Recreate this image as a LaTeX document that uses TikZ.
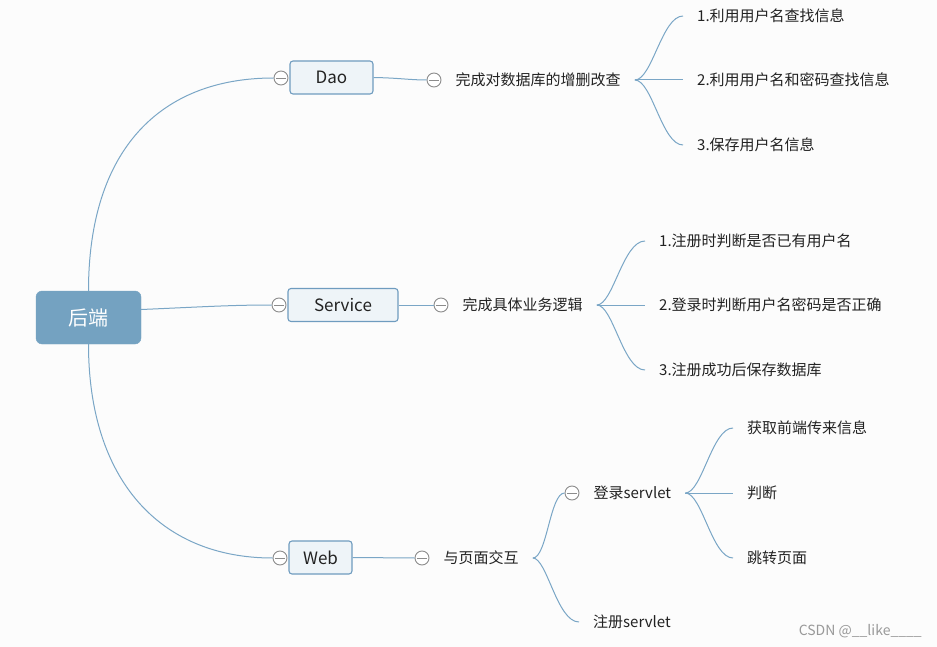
\documentclass[tikz,border=0pt]{standalone}
\usepackage{fontspec}
\setmainfont{Noto Sans CJK SC}
\usepackage{xcolor}
\usetikzlibrary{positioning}

\definecolor{bgcol}{HTML}{FCFCFC}
\definecolor{linkcol}{HTML}{7AA6C6}
\definecolor{rootcol}{HTML}{74A2C1}
\definecolor{topiccol}{HTML}{EEF4F8}
\definecolor{topicline}{HTML}{6F9CBF}
\definecolor{foldcol}{HTML}{8C8C8C}
\definecolor{textcol}{HTML}{222222}

\tikzset{
	rootbox/.style={fill=rootcol, draw=rootcol, rounded corners=6pt, text=white,
		minimum width=105pt, minimum height=53pt, font=\fontsize{20}{24}\selectfont},
	topicbox/.style={fill=topiccol, draw=topicline, line width=1.1pt, rounded corners=3pt, text=textcol,
		minimum height=33pt, inner sep=0pt, font=\fontsize{17}{20}\selectfont},
	fold/.style={circle, draw=foldcol, fill=white, minimum size=14pt, inner sep=0pt, line width=0.9pt,
		path picture={\draw[foldcol, line width=0.9pt] ([xshift=-5pt]path picture bounding box.center) -- ([xshift=5pt]path picture bounding box.center);}},
	leaf/.style={anchor=west, inner xsep=14pt, inner ysep=2pt, text=textcol, font=\fontsize{15}{18}\selectfont},
	link/.style={draw=linkcol, line width=1pt}
}

\begin{document}
\begin{tikzpicture}[x=1pt,y=-1pt]

	\fill[bgcol] (0,0) rectangle (937,647);
	\useasboundingbox (0,0) rectangle (937,647);

	% root and the three topics
	\node[rootbox] (root) at (88.5,317.5) {后端};
	\node[topicbox, minimum width=83pt] (dao) at (331.5,77.5) {Dao};
	\node[topicbox, minimum width=110pt] (service) at (343,305) {Service};
	\node[topicbox, minimum width=63pt] (web) at (320.5,557.5) {Web};

	\node[fold] (daofold) at (281,78) {};
	\node[fold] (servicefold) at (279,305) {};
	\node[fold] (webfold) at (280,558) {};

	\draw[link] (root.north) .. controls (88.5,150) and (160,78) .. (daofold.west);
	\draw[link] ([yshift=8pt]root.east) .. controls (200,307) and (230,305) .. (servicefold.west);
	\draw[link] (root.south) .. controls (88.5,480) and (160,558) .. (webfold.west);

	% Dao
	\node[fold] (daofold2) at (434,80) {};
	\node[leaf, right=0pt of daofold2] (daotask) {完成对数据库的增删改查};
	\draw[link] (dao.east) .. controls (400,78) and (410,80) .. (daofold2.west);
	\coordinate (daofork) at (daotask.east);
	\node[leaf] (daoa) at (683,16) {1.利用用户名查找信息};
	\node[leaf] (daob) at (683,80) {2.利用用户名和密码查找信息};
	\node[leaf] (daoc) at (683,145) {3.保存用户名信息};
	\draw[link] (daofork) .. controls (652,80) and (662,16) .. (daoa.west);
	\draw[link] (daofork) -- (daob.west);
	\draw[link] (daofork) .. controls (652,80) and (662,145) .. (daoc.west);

	% Service
	\node[fold] (servicefold2) at (441,305) {};
	\node[leaf, right=0pt of servicefold2] (servicetask) {完成具体业务逻辑};
	\draw[link] (service.east) -- (servicefold2.west);
	\coordinate (servicefork) at (servicetask.east);
	\node[leaf] (servicea) at (645,241) {1.注册时判断是否已有用户名};
	\node[leaf] (serviceb) at (645,305) {2.登录时判断用户名密码是否正确};
	\node[leaf] (servicec) at (645,370) {3.注册成功后保存数据库};
	\draw[link] (servicefork) .. controls (613,305) and (623,241) .. (servicea.west);
	\draw[link] (servicefork) -- (serviceb.west);
	\draw[link] (servicefork) .. controls (613,305) and (623,370) .. (servicec.west);

	% Web
	\node[fold] (webfold2) at (422,558) {};
	\node[leaf, right=0pt of webfold2] (webtask) {与页面交互};
	\draw[link] (web.east) -- (webfold2.west);
	\coordinate (webfork) at (webtask.east);
	\node[fold] (loginfold) at (572,493) {};
	\node[leaf, right=0pt of loginfold] (login) {登录servlet};
	\node[leaf] (register) at (579,622) {注册servlet};
	\draw[link] (webfork) .. controls (547,558) and (550,493) .. (loginfold.west);
	\draw[link] (webfork) .. controls (547,558) and (557,622) .. (register.west);
	\coordinate (loginfork) at (login.east);
	\node[leaf] (logina) at (733,428) {获取前端传来信息};
	\node[leaf] (loginb) at (733,493) {判断};
	\node[leaf] (loginc) at (733,558) {跳转页面};
	\draw[link] (loginfork) .. controls (702,493) and (712,428) .. (logina.west);
	\draw[link] (loginfork) -- (loginb.west);
	\draw[link] (loginfork) .. controls (702,493) and (712,558) .. (loginc.west);

	\node[anchor=east, inner sep=0pt, text=gray!80, font=\fontsize{14}{17}\selectfont] (mark) at (922,631) {CSDN @\_\_like\_\_\_\_};
\end{tikzpicture}
\end{document}
